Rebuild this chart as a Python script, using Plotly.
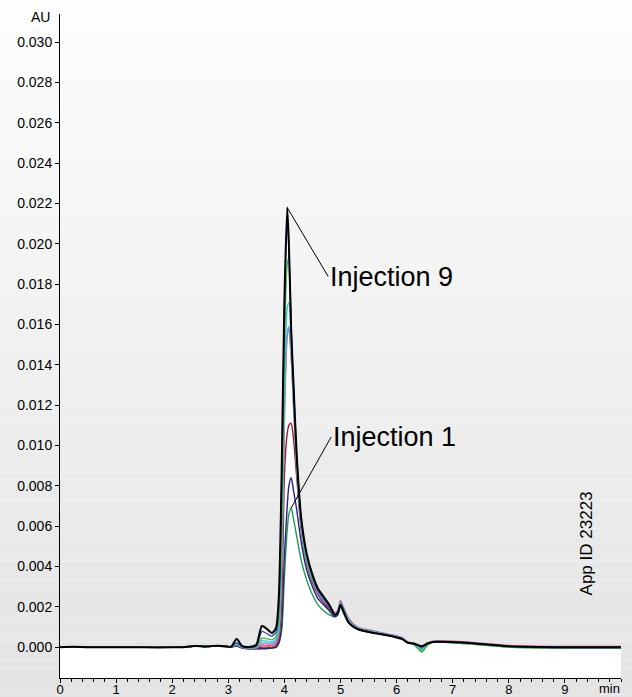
import plotly.graph_objects as go

# ---------------- data ----------------
time_min = [0, 0.25, 0.5, 1.0, 1.5, 2.0, 2.2, 2.4, 2.6, 2.8,
            2.95, 3.05, 3.15, 3.25, 3.4, 3.5, 3.6, 3.68, 3.78, 3.85,
            3.9, 3.95, 4.0, 4.05, 4.08, 4.12, 4.16, 4.22, 4.3, 4.4,
            4.5, 4.6, 4.7, 4.8, 4.9, 4.95, 5.0, 5.05, 5.15, 5.3,
            5.5, 5.8, 6.0, 6.1, 6.2, 6.3, 6.45, 6.55, 6.65, 7.0,
            7.5, 8.0, 9.0, 10.0]

inj1 = [0, 0.00001, 0, 0, -0.00001, -0.00001, 0, 0.00005, 0.00003, 0.00006,
        0.00003, 0.0, 0.00005, -0.00004, -0.00008, -0.00008, -0.00006, -0.00006, -0.00004, 0.0,
        0.0002, 0.0008, 0.0035, 0.0058, 0.0066, 0.0069, 0.0064, 0.0055, 0.0043, 0.0033,
        0.0026, 0.0021, 0.0018, 0.0016, 0.0015, 0.0016, 0.0020, 0.0017, 0.0012, 0.0009,
        0.00076, 0.00061, 0.0005, 0.00042, 0.00022, 0.00017, -0.0002, 0.0001, 0.00025, 0.00022,
        0.00012, 0.0, -0.00005, -0.00005]
inj2 = [0, 0.00001, 0, 0, -0.00001, -0.00001, 0, 0.00005, 0.00003, 0.00006,
        0.00003, 0.0, 0.00006, -0.00004, -0.00008, -0.00008, -0.00008, -0.00008, -0.00005, 0.0,
        0.0002, 0.0010, 0.0045, 0.0070, 0.0080, 0.0084, 0.0078, 0.0068, 0.0052, 0.0038,
        0.0030, 0.0024, 0.0021, 0.0018, 0.0015, 0.0016, 0.0021, 0.0018, 0.0012, 0.0009,
        0.00076, 0.00061, 0.0005, 0.00042, 0.00022, 0.00017, -0.00005, 0.00016, 0.00026, 0.00024,
        0.00015, 0.00004, -0.00002, -0.00002]
inj3 = [0, 0.00001, 0, 0, -0.00001, -0.00001, 0, 0.00005, 0.00003, 0.00006,
        0.00003, 0.0, 0.00008, -0.00003, -0.00006, -0.00006, 0.0, 0.0, 0.0, 0.0001,
        0.0004, 0.0020, 0.0085, 0.0106, 0.0110, 0.0111, 0.0104, 0.0084, 0.0058, 0.0041,
        0.0032, 0.0026, 0.0022, 0.0019, 0.0016, 0.0017, 0.0022, 0.0019, 0.0013, 0.00095,
        0.0008, 0.00064, 0.00052, 0.00043, 0.00022, 0.00016, -0.0001, 0.00014, 0.00027, 0.00025,
        0.00016, 0.00003, -0.00003, -0.00003]
inj4 = [0, 0.00001, 0, 0, -0.00001, -0.00001, 0, 0.00005, 0.00003, 0.00006,
        0.00004, 0.00001, 0.0001, -0.00002, -0.00005, -0.00004, 0.0001, 0.0001, 0.0001, 0.0002,
        0.0006, 0.0033, 0.0112, 0.0154, 0.0158, 0.0144, 0.0121, 0.0088, 0.0060, 0.0043,
        0.0034, 0.0028, 0.0024, 0.0021, 0.0017, 0.0018, 0.0023, 0.0020, 0.0014, 0.0010,
        0.00085, 0.00068, 0.00056, 0.00047, 0.00026, 0.0002, 0.0, 0.0002, 0.0003, 0.0003,
        0.0002, 0.00008, 0.00003, 0.00003]
inj5 = [0, 0.00001, 0, 0, -0.00001, -0.00001, 0, 0.00005, 0.00003, 0.00006,
        0.00004, 0.00001, 0.00012, -0.00001, -0.00004, -0.00002, 0.0002, 0.0002, 0.00018, 0.0003,
        0.0008, 0.0038, 0.0118, 0.0156, 0.0159, 0.0145, 0.0122, 0.0089, 0.0060, 0.0042,
        0.0033, 0.0027, 0.0023, 0.0020, 0.0016, 0.0017, 0.0022, 0.0019, 0.0013, 0.00095,
        0.0008, 0.00064, 0.00052, 0.00043, 0.00022, 0.00016, -0.00012, 0.00014, 0.00027, 0.00025,
        0.00016, 0.00003, -0.00003, -0.00003]
inj6 = [0, 0.00001, 0, 0, -0.00001, -0.00001, 0, 0.00005, 0.00003, 0.00006,
        0.00004, 0.00001, 0.00014, 0.0, -0.00003, 0.0, 0.00032, 0.00030, 0.00026, 0.0004,
        0.0010, 0.0045, 0.0128, 0.0168, 0.0171, 0.0150, 0.0125, 0.0091, 0.0061, 0.0043,
        0.0034, 0.0028, 0.0024, 0.0020, 0.0016, 0.0017, 0.0022, 0.0019, 0.0013, 0.00095,
        0.0008, 0.00064, 0.00052, 0.00043, 0.00022, 0.00016, -0.00012, 0.00014, 0.00027, 0.00025,
        0.00016, 0.00003, -0.00003, -0.00003]
inj7 = [0, 0.00001, 0, 0, -0.00001, -0.00001, 0, 0.00005, 0.00003, 0.00006,
        0.00004, 0.00001, 0.00018, 0.00001, -0.00002, 0.00003, 0.00045, 0.00042, 0.00036, 0.00052,
        0.0013, 0.0055, 0.0145, 0.0190, 0.0193, 0.0157, 0.0129, 0.0093, 0.0062, 0.0044,
        0.0034, 0.0028, 0.0024, 0.0020, 0.0016, 0.0017, 0.0021, 0.0018, 0.0012, 0.00092,
        0.00078, 0.00062, 0.0005, 0.00042, 0.00021, 0.00014, -0.00025, 0.0001, 0.00025, 0.00022,
        0.00012, 0.0, -0.00005, -0.00005]
inj8 = [0, 0.00001, 0, 0, -0.00001, -0.00001, 0, 0.00005, 0.00003, 0.00006,
        0.00004, 0.00001, 0.00022, 0.00002, -0.00001, 0.00006, 0.00078, 0.00068, 0.00055, 0.00075,
        0.0020, 0.0078, 0.0165, 0.0212, 0.0197, 0.0157, 0.0130, 0.0094, 0.0063, 0.0045,
        0.0035, 0.0028, 0.0024, 0.0020, 0.0016, 0.0017, 0.0021, 0.0018, 0.0012, 0.0009,
        0.00076, 0.00061, 0.0005, 0.00042, 0.00022, 0.00017, 0.00002, 0.00017, 0.00026, 0.00024,
        0.00015, 0.00004, -0.00002, -0.00002]
inj9 = [0, 0.00002, 0, 0, -0.00001, -0.00001, 0, 0.00006, 0.00003, 0.00007,
        0.00005, 0.00002, 0.00040, 0.00005, 0.00002, 0.00012, 0.00105, 0.00092, 0.00070, 0.00095,
        0.0025, 0.0085, 0.0172, 0.0218, 0.0200, 0.0158, 0.0132, 0.0095, 0.0064, 0.0046,
        0.0036, 0.0029, 0.0025, 0.0021, 0.0016, 0.0017, 0.0021, 0.0018, 0.0012, 0.0009,
        0.00075, 0.0006, 0.00048, 0.0004, 0.00022, 0.00018, 0.00005, 0.00018, 0.00026, 0.00025,
        0.00016, 0.00005, 0.0, 0.0]

series_names = ["Injection 1", "Injection 2", "Injection 3", "Injection 4", "Injection 5",
                "Injection 6", "Injection 7", "Injection 8", "Injection 9"]
series_values = [inj1, inj2, inj3, inj4, inj5, inj6, inj7, inj8, inj9]
series_colors = ["#1c9a55", "#26267e", "#9c1b22", "#c8479c", "#6aa6e6",
                 "#3fc4c4", "#48b848", "#3352c6", "#000000"]
series_widths = [1.4, 1.4, 1.4, 1.4, 1.4, 1.4, 1.4, 1.4, 2.0]

x_tick_vals = [0, 1, 2, 3, 4, 5, 6, 7, 8, 9]
y_tick_vals = [0.000, 0.002, 0.004, 0.006, 0.008, 0.010, 0.012, 0.014,
               0.016, 0.018, 0.020, 0.022, 0.024, 0.026, 0.028, 0.030]

Y_MIN, Y_MAX = -0.00153, 0.0314
X_MIN, X_MAX = 0, 10

FONT = "Liberation Sans, Arial, Helvetica, sans-serif"
W, H = 632, 697
ML, MR, MT, MB = 60, 11, 14, 19

fig = go.Figure()

# white area under the curves (envelope of all series down to axis bottom)
envelope = [max(vals) for vals in zip(*series_values)]
fig.add_trace(go.Scatter(x=time_min, y=[Y_MIN] * len(time_min), mode="lines",
                         line=dict(width=0, color="white"), hoverinfo="skip",
                         showlegend=False))
fig.add_trace(go.Scatter(x=time_min, y=envelope, mode="lines", fill="tonexty",
                         fillcolor="white", line=dict(width=0, color="white", shape="spline",
                                                      smoothing=0.7),
                         hoverinfo="skip", showlegend=False))

for name, vals, col, w in zip(series_names, series_values, series_colors, series_widths):
    fig.add_trace(go.Scatter(x=time_min, y=vals, mode="lines", name=name,
                             line=dict(color=col, width=w, shape="spline", smoothing=0.7),
                             showlegend=False))

# vertical gradient background over whole figure
pw = W - ML - MR
ph = H - MT - MB
x0p, x1p = -ML / pw - 0.01, 1 + MR / pw + 0.01
y_top = 1 + MT / ph + 0.01
y_bot = -MB / ph - 0.01
N = 80
top_c, bot_c = 254, 227
shapes = []
for i in range(N):
    f0 = i / N
    f1 = (i + 1) / N
    c = round(top_c + (bot_c - top_c) * (f0 + f1) / 2)
    shapes.append(dict(type="rect", xref="paper", yref="paper", layer="below",
                       x0=x0p, x1=x1p,
                       y0=y_top + (y_bot - y_top) * f1, y1=y_top + (y_bot - y_top) * f0,
                       line=dict(width=0), fillcolor=f"rgb({c},{c},{c})"))

annotations = [
    dict(x=time_min[inj9.index(max(inj9))], y=max(inj9), xref="x", yref="y",
         text="Injection 9", showarrow=True, arrowhead=0, arrowwidth=1, arrowcolor="black",
         ax=41, ay=69, xanchor="left", yanchor="middle",
         font=dict(family=FONT, size=27, color="black")),
    dict(x=time_min[inj1.index(max(inj1))], y=max(inj1), xref="x", yref="y",
         text="Injection 1", showarrow=True, arrowhead=0, arrowwidth=1, arrowcolor="black",
         ax=40, ay=-71, xanchor="left", yanchor="middle",
         font=dict(family=FONT, size=27, color="black")),
    dict(x=0, y=1, xref="paper", yref="paper", text="AU", showarrow=False,
         xanchor="right", yanchor="middle", xshift=-8, yshift=-3,
         font=dict(family=FONT, size=14, color="black")),
    dict(x=1, y=0, xref="paper", yref="paper", text="min", showarrow=False,
         xanchor="right", yanchor="top", yshift=-2, borderpad=0,
         font=dict(family=FONT, size=13, color="black")),
    dict(x=0.938, y=0.203, xref="paper", yref="paper", text="App ID 23223", showarrow=False,
         textangle=-90, xanchor="center", yanchor="middle",
         font=dict(family=FONT, size=17, color="black")),
]

fig.update_layout(
    width=W, height=H, template="none",
    margin=dict(l=ML, r=MR, t=MT, b=MB, pad=0),
    paper_bgcolor="rgba(0,0,0,0)", plot_bgcolor="rgba(0,0,0,0)",
    font=dict(family=FONT, size=14, color="black"),
    shapes=shapes, annotations=annotations, showlegend=False,
    xaxis=dict(range=[X_MIN, X_MAX], tickvals=x_tick_vals, ticktext=[str(v) for v in x_tick_vals],
               showgrid=False, zeroline=False, showline=True, linecolor="black", linewidth=1,
               ticks="outside", ticklen=4, tickcolor="black", tickwidth=1,
               ticklabelstandoff=-5,
               tickfont=dict(family=FONT, size=13, color="black"), automargin=False,
               minor=dict(dtick=0.2, tick0=0, ticks="outside", ticklen=3,
                          tickcolor="black", tickwidth=1, showgrid=False)),
    yaxis=dict(range=[Y_MIN, Y_MAX], tickvals=y_tick_vals, tickformat=".3f",
               showgrid=False, zeroline=False, showline=True, linecolor="black", linewidth=1,
               ticks="outside", ticklen=4, tickcolor="black", tickwidth=1,
               tickfont=dict(family=FONT, size=14, color="black"), automargin=False),
)

fig.write_html("out.html", config={"displayModeBar": False},
               post_script="document.body.style.margin='0';document.body.style.padding='0';"
                           "document.body.style.overflow='hidden';")
